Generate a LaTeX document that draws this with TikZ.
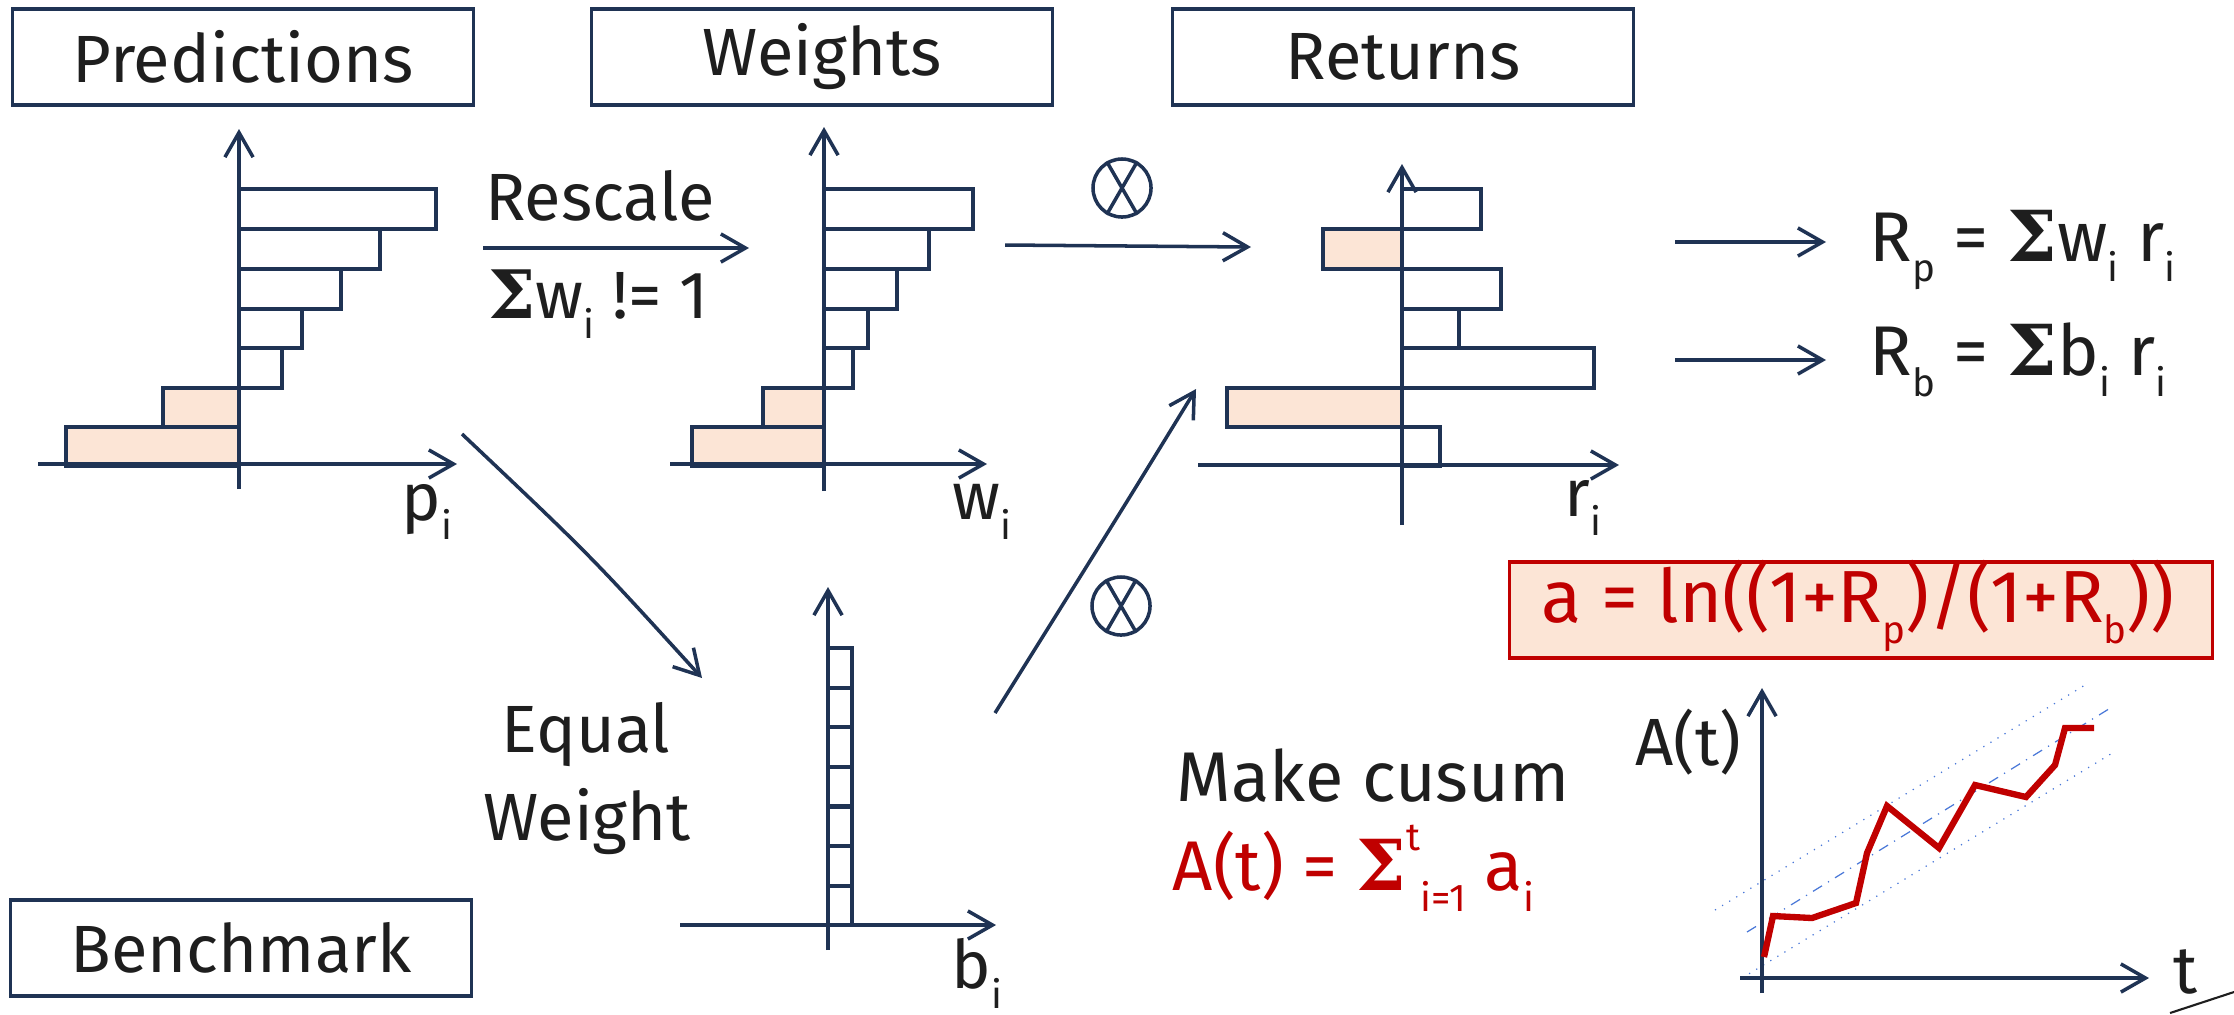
\documentclass[tikz,border=0pt]{standalone}
\usepackage[no-math]{fontspec}
\setmainfont{Fira Sans}
\newfontfamily\sigfont{DejaVu Serif}
\usetikzlibrary{arrows.meta}
\definecolor{navy}{HTML}{1F3354}
\definecolor{peach}{HTML}{FCE5D6}
\definecolor{redx}{HTML}{C00000}
\definecolor{ink}{HTML}{1E1E1E}
\definecolor{lblue}{HTML}{4A78D8}
\newcommand{\lowsub}[1]{\raisebox{-0.55ex}{\fontsize{11}{11}\selectfont #1}}
\newcommand{\highsup}[1]{\raisebox{1.1ex}{\fontsize{11}{11}\selectfont #1}}
\newcommand{\bsig}{{\sigfont\bfseries Σ}}
\begin{document}
\begin{tikzpicture}[x=0.01cm,y=-0.01cm,
 arr/.style={navy,line width=1pt,-{Straight Barb[length=7pt,width=8pt]}},
 axis/.style={navy,line width=1pt,-{Straight Barb[length=7pt,width=8pt]}},
 titlebox/.style={draw=navy,line width=0.9pt,minimum width=4.6cm,minimum height=0.96cm,inner sep=0pt,text=ink,font=\fontsize{19}{22}\selectfont},
 bar/.style={draw=navy,line width=1.2pt},
 negbar/.style={bar,fill=peach},
 txt/.style={text=ink,font=\fontsize{19}{22}\selectfont,inner sep=0pt},
 redtxt/.style={text=redx,font=\fontsize{21}{23}\selectfont,inner sep=0pt},
 otimes/.style={draw=navy,line width=1pt,circle,minimum size=0.58cm,inner sep=0pt},
 guide/.style={lblue,line width=0.35pt,dotted},
 guidemid/.style={lblue,line width=0.35pt,dash dot},
 cusum/.style={redx,line width=1.8pt,line join=miter}
]
\useasboundingbox (0,0) rectangle (2234,1014);

% ---------- title boxes ----------
\node[titlebox] (pred) at (243,57) {Predictions};
\node[titlebox] (wts) at (822,57) {Weights};
\node[titlebox] (ret) at (1403,57) {Returns};
\node[titlebox] (bench) at (241,948) {Benchmark};

% ---------- predictions chart ----------
\foreach \t/\b/\r in {189/229/436, 229/269/380, 269/309/341, 309/348/302, 348/388/282}
  \draw[bar] (239,\t) rectangle (\r,\b);
\draw[negbar] (163,388) rectangle (239,427);
\draw[negbar] (66,427) rectangle (239,466);
\draw[axis] (239,489) -- (239,129);
\draw[axis] (38,464) -- (457,464);
\node[txt] (plab) at (427,512) {p\lowsub{i}};

% ---------- weights chart ----------
\foreach \t/\b/\r in {189/229/973, 229/269/929, 269/309/897, 309/348/868, 348/388/853}
  \draw[bar] (824,\t) rectangle (\r,\b);
\draw[negbar] (763,388) rectangle (824,427);
\draw[negbar] (692,427) rectangle (824,466);
\draw[axis] (824,491) -- (824,127);
\draw[axis] (670,464) -- (987,464);
\node[txt] (wlab) at (982,512) {w\lowsub{i}};

% ---------- returns chart ----------
\draw[bar] (1402,189) rectangle (1481,229);
\draw[negbar] (1323,229) rectangle (1402,269);
\draw[bar] (1402,269) rectangle (1501,309);
\draw[bar] (1402,309) rectangle (1459,348);
\draw[bar] (1402,348) rectangle (1594,388);
\draw[negbar] (1227,388) rectangle (1402,427);
\draw[bar] (1402,427) rectangle (1440,466);
\draw[axis] (1402,525) -- (1402,164);
\draw[axis] (1198,465) -- (1619,465);
\node[txt] (rlab) at (1583,508) {r\lowsub{i}};

% ---------- benchmark chart ----------
\foreach \k in {0,...,6}
  \draw[bar] (828,{648+39.6*\k}) rectangle (852,{648+39.6*(\k+1)});
\draw[axis] (828,950) -- (828,587);
\draw[axis] (680,925) -- (996,925);
\node[txt,anchor=north] (blab) at (977,938) {b\lowsub{i}};

% ---------- operators ----------
\node[otimes] (ot1) at (1122,188) {};
\draw[navy,line width=1pt] (ot1.60) -- (ot1.240) (ot1.120) -- (ot1.300);
\node[otimes] (ot2) at (1121,606) {};
\draw[navy,line width=1pt] (ot2.60) -- (ot2.240) (ot2.120) -- (ot2.300);

% ---------- labels ----------
\node[txt] (rescale) at (600,196) {Rescale};
\node[txt,anchor=west] (sumw) at (488,304) {\bsig w\lowsub{i} != 1};
\node[txt] (eq1) at (586,735) {Equal};
\node[txt] (eq2) at (587,822) {Weight};

\node[txt,anchor=west,font=\fontsize{20}{22}\selectfont] (rp) at (1869,250) {R\lowsub{p} = \bsig w\lowsub{i} r\lowsub{i}};
\node[txt,anchor=west,font=\fontsize{20}{22}\selectfont] (rb) at (1869,360) {R\lowsub{b} = \bsig b\lowsub{i} r\lowsub{i}};

\node[draw=redx,fill=peach,line width=0.9pt,minimum width=7.02cm,minimum height=0.96cm,inner sep=0pt] (abox) at (1861,610) {};
\node[redtxt] (aform) at (1858,606) {a = ln((1+R\lowsub{p})/(1+R\lowsub{b}))};

\node[txt,anchor=west,font=\fontsize{20}{22}\selectfont] (cusum) at (1176,776) {Make cusum};
\node[redtxt,anchor=west,font=\fontsize{20}{22}\selectfont] (Aform) at (1172,868) {A(t) = \bsig\highsup{t}\lowsub{i=1} a\lowsub{i}};

% ---------- arrows ----------
\coordinate (a1s) at (483,248); \coordinate (a1e) at (749,248);
\draw[arr] (a1s) -- (a1e);
\coordinate (a2s) at (1005,245); \coordinate (a2e) at (1251,247);
\draw[arr] (a2s) -- (a2e);
\coordinate (a3s) at (1675,242); \coordinate (a3e) at (1826,242);
\draw[arr] (a3s) -- (a3e);
\coordinate (a4s) at (1675,360); \coordinate (a4e) at (1826,360);
\draw[arr] (a4s) -- (a4e);
\coordinate (a5s) at (462,434); \coordinate (a5e) at (702,678);
\draw[arr] (a5s) .. controls (590,555) .. (a5e);
\coordinate (a6s) at (995,713); \coordinate (a6e) at (1196,389);
\draw[arr] (a6s) .. controls (1125,505) .. (a6e);

% ---------- cusum chart ----------
\draw[guide] (1715,910) -- (2085,685);
\draw[guidemid] (1747,932) -- (2112,707);
\draw[guide] (1742,978) -- (2114,752);
\draw[axis] (1762,993) -- (1762,688);
\draw[axis] (1740,978) -- (2149,978);
\draw[cusum] (1764,957) -- (1773,916) -- (1812,918) -- (1856,903) -- (1867,853) -- (1887,806)
  -- (1939,848) -- (1975,785) -- (2026,797) -- (2055,765) -- (2065,728) -- (2094,728);
\node[txt] (Alab) at (1688,742) {A(t)};
\node[txt] (tlab) at (2186,972) {t};
\draw[ink,line width=0.6pt] (2170,1013) -- (2234,992);
\end{tikzpicture}
\end{document}
